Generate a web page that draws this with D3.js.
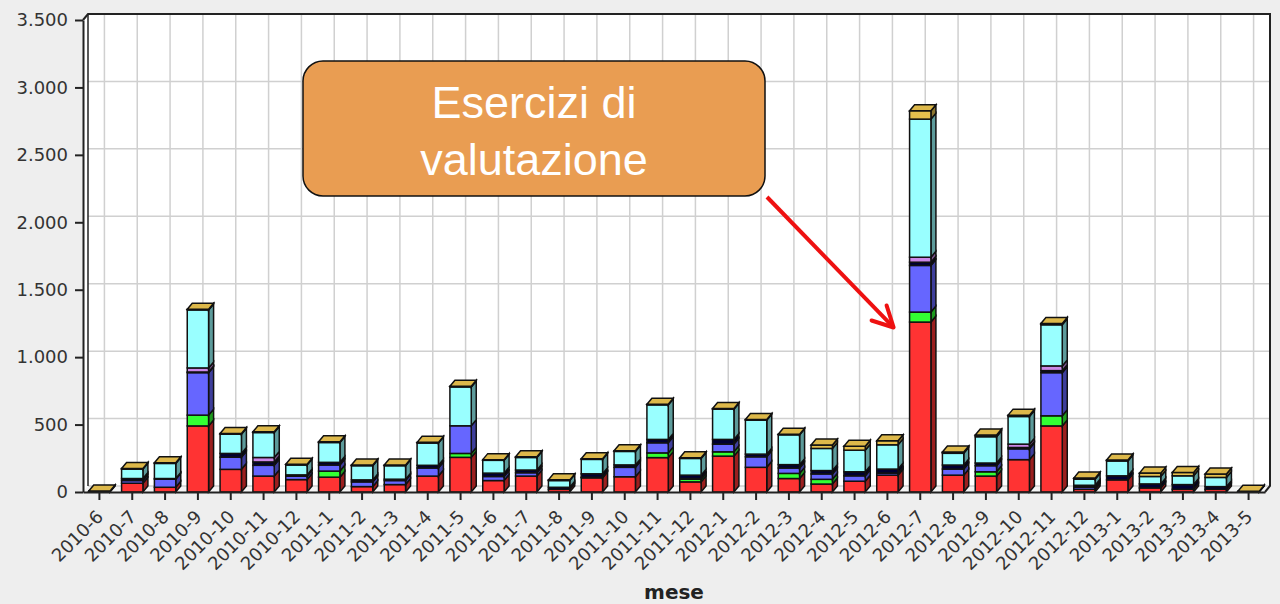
<!DOCTYPE html>
<html>
<head>
<meta charset="utf-8">
<script src="https://cdn.jsdelivr.net/npm/d3@7"></script>
<style>
  body { margin: 0; background: #eeeeee; }
  svg { display: block; }
  .tick text { font-family: "DejaVu Sans", sans-serif; font-size: 18px; fill: #333; }
</style>
</head>
<body>
<div id="container"></div>
<script>
// months on the x axis
const months = [
  "2010-6", "2010-7", "2010-8", "2010-9", "2010-10", "2010-11", "2010-12",
  "2011-1", "2011-2", "2011-3", "2011-4", "2011-5", "2011-6", "2011-7", "2011-8",
  "2011-9", "2011-10", "2011-11", "2011-12",
  "2012-1", "2012-2", "2012-3", "2012-4", "2012-5", "2012-6", "2012-7", "2012-8",
  "2012-9", "2012-10", "2012-11", "2012-12",
  "2013-1", "2013-2", "2013-3", "2013-4", "2013-5"];

// stacked series, bottom to top
const redValues   = [0, 65, 35, 490, 168, 118, 92, 110, 40, 55, 118, 257, 85, 118, 20, 105, 113, 255, 75, 266, 183, 100, 59, 80, 125, 1260, 125, 118, 240, 490, 20, 90, 30, 20, 20, 0];
const greenValues = [0, 0, 0, 80, 0, 0, 0, 45, 0, 0, 0, 29, 0, 0, 0, 0, 0, 35, 20, 32, 0, 38, 35, 0, 0, 74, 0, 32, 0, 75, 0, 0, 0, 0, 0, 0];
const blueValues  = [0, 20, 60, 315, 90, 80, 25, 45, 35, 30, 60, 205, 30, 25, 0, 5, 70, 75, 5, 57, 78, 40, 40, 40, 15, 346, 45, 45, 80, 320, 15, 0, 0, 0, 0, 0];
const navyValues  = [4, 15, 5, 5, 28, 25, 10, 20, 15, 10, 20, 0, 25, 20, 15, 25, 18, 25, 25, 35, 20, 25, 25, 30, 30, 24, 30, 20, 10, 15, 5, 30, 30, 35, 20, 3];
const pinkValues  = [0, 0, 0, 30, 0, 33, 0, 0, 0, 0, 0, 0, 0, 0, 0, 0, 0, 0, 0, 0, 0, 0, 0, 0, 0, 37, 0, 0, 25, 35, 10, 0, 0, 0, 0, 0];
const cyanValues  = [0, 70, 112, 430, 143, 185, 73, 147, 105, 100, 165, 288, 95, 93, 50, 107, 100, 256, 124, 224, 252, 221, 164, 160, 180, 1024, 87, 195, 205, 305, 45, 110, 55, 65, 68, 0];
const goldValues  = [3, 5, 5, 5, 5, 5, 5, 5, 5, 5, 5, 5, 5, 5, 5, 5, 5, 5, 5, 5, 5, 5, 25, 30, 30, 62, 10, 12, 10, 10, 8, 8, 25, 25, 25, 3];

const seriesKeys = ["red", "green", "blue", "navy", "pink", "cyan", "gold"];
const seriesColors = ["#ff3333", "#33ff33", "#6666ff", "#000033", "#cc88e8", "#99ffff", "#e6c04d"];
const yTicks = [0, 500, 1000, 1500, 2000, 2500, 3000, 3500];

const width = 1280;
const height = 604;
const plotLeft = 83, plotRight = 1265, plotTop = 20, plotBottom = 492;
const depthX = 5, depthY = 6;

const table = months.map((m, i) => ({
  month: m,
  red: redValues[i], green: greenValues[i], blue: blueValues[i], navy: navyValues[i],
  pink: pinkValues[i], cyan: cyanValues[i], gold: goldValues[i]
}));

const fmt = d3.formatLocale({decimal: ",", thousands: ".", grouping: [3], currency: ["€", ""]}).format(",");

const x = d3.scaleBand().domain(months).range([plotLeft, plotRight]).paddingInner(0.35).paddingOuter(0.175);
const y = d3.scaleLinear().domain([0, 3500]).range([plotBottom, plotTop]);
const color = d3.scaleOrdinal().domain(seriesKeys).range(seriesColors);

const svg = d3.select("#container").append("svg")
  .attr("width", width)
  .attr("height", height);

svg.append("rect").attr("width", width).attr("height", height).attr("fill", "#eeeeee");

// back wall, side wall and floor
svg.append("rect")
  .attr("x", plotLeft + depthX).attr("y", plotTop - depthY)
  .attr("width", plotRight - plotLeft).attr("height", plotBottom - plotTop)
  .attr("fill", "#ffffff");
svg.append("path")
  .attr("d", `M${plotLeft},${plotTop}L${plotLeft + depthX},${plotTop - depthY}L${plotLeft + depthX},${plotBottom - depthY}L${plotLeft},${plotBottom}Z`)
  .attr("fill", "#ffffff");
svg.append("path")
  .attr("d", `M${plotLeft},${plotBottom}L${plotLeft + depthX},${plotBottom - depthY}L${plotRight + depthX},${plotBottom - depthY}L${plotRight},${plotBottom}Z`)
  .attr("fill", "#f4f4f4");

// grid on the back wall
svg.append("g").selectAll("line").data(yTicks).join("line")
  .attr("x1", plotLeft + depthX).attr("x2", plotRight + depthX)
  .attr("y1", d => y(d) - depthY).attr("y2", d => y(d) - depthY)
  .attr("stroke", "#d0d0d0").attr("stroke-width", 1.5);
svg.append("g").selectAll("line").data(months).join("line")
  .attr("x1", d => x(d) + x.bandwidth() / 2 + depthX).attr("x2", d => x(d) + x.bandwidth() / 2 + depthX)
  .attr("y1", plotTop - depthY).attr("y2", plotBottom - depthY)
  .attr("stroke", "#d0d0d0").attr("stroke-width", 1.5);

// wall outline
svg.append("path")
  .attr("d", `M${plotLeft},${plotTop}L${plotLeft + depthX},${plotTop - depthY}L${plotRight + depthX},${plotTop - depthY}L${plotRight + depthX},${plotBottom - depthY}L${plotRight},${plotBottom}`)
  .attr("fill", "none").attr("stroke", "#222").attr("stroke-width", 2);
svg.append("line")
  .attr("x1", plotLeft + depthX).attr("x2", plotLeft + depthX)
  .attr("y1", plotTop - depthY).attr("y2", plotBottom - depthY)
  .attr("stroke", "#222").attr("stroke-width", 1.5);

// stacked 3D bars
const stacked = d3.stack().keys(seriesKeys)(table);
const bw = x.bandwidth();

const layer = svg.append("g").selectAll("g").data(stacked).join("g");

const seg = layer.selectAll("g")
  .data(s => s.map(d => ({key: s.key, month: d.data.month, y0: d[0], y1: d[1]})).filter(d => d.y1 > d.y0))
  .join("g");

seg.append("path")
  .attr("d", d => {
    const x1 = x(d.month) + bw;
    return `M${x1},${y(d.y1)}L${x1 + depthX},${y(d.y1) - depthY}L${x1 + depthX},${y(d.y0) - depthY}L${x1},${y(d.y0)}Z`;
  })
  .attr("fill", d => d3.color(color(d.key)).darker(1.4))
  .attr("stroke", "#111").attr("stroke-width", 1.5);

seg.append("rect")
  .attr("x", d => x(d.month))
  .attr("y", d => y(d.y1))
  .attr("width", bw)
  .attr("height", d => y(d.y0) - y(d.y1))
  .attr("fill", d => color(d.key))
  .attr("stroke", "#111").attr("stroke-width", 1.5);

// top faces
const totals = table.map(d => ({month: d.month, total: d3.sum(seriesKeys, k => d[k])}));
svg.append("g").selectAll("path").data(totals).join("path")
  .attr("d", d => {
    const x0 = x(d.month), yt = y(d.total);
    return `M${x0},${yt}L${x0 + depthX},${yt - depthY}L${x0 + bw + depthX},${yt - depthY}L${x0 + bw},${yt}Z`;
  })
  .attr("fill", "#ddb84a")
  .attr("stroke", "#111").attr("stroke-width", 1.5);

// axes
svg.append("g")
  .attr("transform", `translate(${plotLeft},0)`)
  .call(d3.axisLeft(y).tickValues(yTicks).tickFormat(fmt).tickSize(8).tickSizeOuter(0).tickPadding(7))
  .call(g => g.selectAll("line, path").attr("stroke", "#222").attr("stroke-width", 2));

svg.append("g")
  .attr("transform", `translate(0,${plotBottom})`)
  .call(d3.axisBottom(x).tickSize(8).tickSizeOuter(0))
  .call(g => g.selectAll("line, path").attr("stroke", "#222").attr("stroke-width", 2))
  .call(g => g.selectAll("text")
    .attr("text-anchor", "end")
    .attr("x", 0).attr("y", 0).attr("dx", 0).attr("dy", 0)
    .attr("transform", "translate(5,26) rotate(-45)"));

svg.append("text")
  .attr("x", (plotLeft + plotRight) / 2)
  .attr("y", 599)
  .attr("text-anchor", "middle")
  .attr("font-family", "DejaVu Sans, sans-serif")
  .attr("font-weight", "bold")
  .attr("font-size", 20)
  .attr("fill", "#222")
  .text("mese");

// annotation box and arrow
const note = svg.append("g");
note.append("rect")
  .attr("x", 303).attr("y", 61)
  .attr("width", 462).attr("height", 135)
  .attr("rx", 20)
  .attr("fill", "#e99d52")
  .attr("stroke", "#111").attr("stroke-width", 1.5);
note.selectAll("text").data(["Esercizi di", "valutazione"]).join("text")
  .attr("x", 534)
  .attr("y", (d, i) => 118 + i * 57)
  .attr("text-anchor", "middle")
  .attr("font-family", "Liberation Sans, Arial, sans-serif")
  .attr("font-size", 45)
  .attr("fill", "#ffffff")
  .text(d => d);

const tipX = x("2012-7") - 16, tipY = y(1220);
note.append("line")
  .attr("x1", 767).attr("y1", 197)
  .attr("x2", tipX).attr("y2", tipY)
  .attr("stroke", "#ee1111").attr("stroke-width", 4);
note.append("path")
  .attr("d", `M${tipX - 22},${tipY - 7}L${tipX},${tipY}L${tipX - 7},${tipY - 22}`)
  .attr("fill", "none")
  .attr("stroke", "#ee1111").attr("stroke-width", 4)
  .attr("stroke-linecap", "round").attr("stroke-linejoin", "round");
</script>
</body>
</html>
